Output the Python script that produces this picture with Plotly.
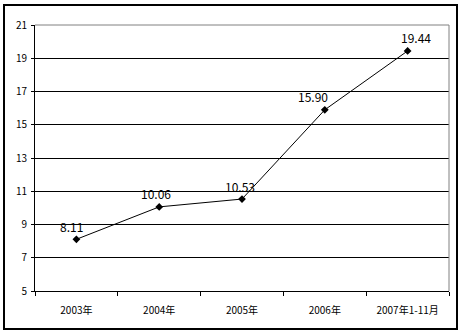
import plotly.graph_objects as go

categories = ["2003年", "2004年", "2005年", "2006年", "2007年1-11月"]
values = [8.11, 10.06, 10.53, 15.90, 19.44]
labels = ["8.11", "10.06", "10.53", "15.90", "19.44"]
y_ticks = [5, 7, 9, 11, 13, 15, 17, 19, 21]

W, H = 463, 335
ml, mr, mt, mb = 35, 14, 25, 44
pw, ph = W - ml - mr, H - mt - mb

font = "SimSun, 'Noto Sans CJK SC', serif"
label_xshift = [-5, -3, -2, -12, 8]

fig = go.Figure()
fig.add_trace(go.Scatter(
    x=categories, y=values, mode="lines+markers",
    line=dict(color="black", width=1),
    marker=dict(symbol="diamond", size=6, color="black"),
    cliponaxis=False, showlegend=False,
))

annotations = [
    dict(x=c, y=v, text=t, showarrow=False, xshift=dx, yshift=13,
         font=dict(family=font, size=12, color="black"))
    for c, v, t, dx in zip(categories, values, labels, label_xshift)
]

fig.update_layout(
    width=W, height=H,
    margin=dict(l=ml, r=mr, t=mt, b=mb),
    paper_bgcolor="white", plot_bgcolor="white",
    annotations=annotations,
    xaxis=dict(
        type="category", showgrid=False, showline=True, linecolor="black", linewidth=1,
        ticks="outside", tickson="boundaries", ticklen=4, tickcolor="black",
        tickfont=dict(family=font, size=10, color="black"),
        ticklabelstandoff=10,
        range=[-0.5, 4.5],
    ),
    yaxis=dict(
        range=[5, 21], tickvals=y_ticks, showgrid=True, gridcolor="black", gridwidth=1,
        showline=True, linecolor="black", linewidth=1,
        ticks="outside", ticklen=3, tickcolor="black",
        tickfont=dict(family=font, size=10, color="black"),
        ticklabelstandoff=2,
        zeroline=False,
    ),
    shapes=[
        dict(type="line", xref="paper", yref="paper", x0=0, x1=1, y0=1, y1=1,
             line=dict(color="#808080", width=1), layer="above"),
        dict(type="line", xref="paper", yref="paper", x0=1, x1=1, y0=0, y1=1,
             line=dict(color="#808080", width=1), layer="above"),
        dict(type="rect", xref="paper", yref="paper",
             x0=(4 - ml) / pw, x1=(457 - ml) / pw,
             y0=(H - mb - 329) / ph, y1=(H - mb - 5) / ph,
             line=dict(color="black", width=2), fillcolor="rgba(0,0,0,0)", layer="above"),
    ],
)

fig.write_html("out.html")
